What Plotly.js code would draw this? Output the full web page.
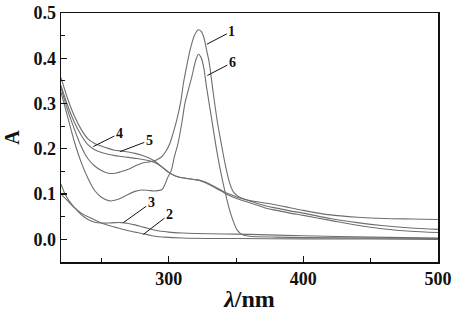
<!DOCTYPE html>
<html>
<head>
<meta charset="utf-8">
<script src="https://cdn.plot.ly/plotly-3.0.1.min.js"></script>
<style>html,body{margin:0;padding:0;background:#fff;}#chart{width:453px;height:312px;}</style>
</head>
<body>
<div id="chart"></div>
<script>
// Wavelengths (nm) and absorbance for each curve
const wl1 = [220,225,230,235,240,245,250,255,260,265,270,275,280,285,290,295,298,301,303,306,309,311,314,316,319,322,324,326,328,330,333,336,339,342,345,348,352,356,360,370,380,390,400,420,440,460,480,500];
const abs1 = [0.335,0.285,0.243,0.205,0.178,0.162,0.152,0.146,0.146,0.150,0.155,0.162,0.168,0.171,0.174,0.183,0.195,0.213,0.232,0.264,0.305,0.346,0.392,0.420,0.450,0.463,0.460,0.447,0.420,0.392,0.325,0.262,0.212,0.165,0.127,0.105,0.094,0.089,0.086,0.081,0.076,0.070,0.064,0.054,0.049,0.046,0.045,0.044];

const wl2 = [220,225,230,235,240,245,250,255,260,265,270,275,280,285,290,297,310,330,350,400,450,500];
const abs2 = [0.100,0.085,0.070,0.058,0.050,0.043,0.036,0.031,0.027,0.023,0.019,0.016,0.013,0.010,0.007,0.005,0.003,0.002,0.002,0.001,0.001,0.000];

const wl3 = [220,223,226,230,235,240,245,250,255,260,265,270,275,280,285,290,300,310,320,340,360,400,450,500];
const abs3 = [0.122,0.100,0.085,0.070,0.055,0.044,0.038,0.036,0.036,0.037,0.037,0.035,0.032,0.028,0.024,0.020,0.016,0.014,0.013,0.012,0.011,0.008,0.005,0.003];

const wl4 = [220,225,230,235,240,245,250,255,260,265,270,275,280,285,290,295,300,305,310,315,320,325,330,335,340,345,350,360,373,380,390,400,420,440,460,480,500];
const abs4 = [0.340,0.295,0.258,0.230,0.209,0.198,0.192,0.188,0.185,0.183,0.181,0.179,0.177,0.174,0.169,0.160,0.148,0.140,0.136,0.134,0.132,0.128,0.121,0.113,0.105,0.097,0.091,0.081,0.068,0.064,0.058,0.053,0.042,0.031,0.023,0.018,0.015];

const wl5 = [220,225,230,235,240,245,250,255,260,265,270,275,280,285,290,295,300,305,310,315,320,325,330,335,340,345,350,360,373,380,390,400,420,440,460,480,500];
const abs5 = [0.357,0.310,0.272,0.243,0.222,0.212,0.206,0.201,0.197,0.195,0.193,0.190,0.186,0.180,0.172,0.160,0.148,0.140,0.136,0.134,0.132,0.129,0.123,0.115,0.107,0.100,0.094,0.085,0.073,0.069,0.063,0.058,0.046,0.037,0.030,0.025,0.022];

const wl6 = [220,225,230,235,240,245,250,256,262,269,275,280,285,290,295,297,299,302,304,307,310,312,315,317,320,322,324,326,328,332,336,341,346,351,355,360,380,400,450,500];
const abs6 = [0.325,0.270,0.215,0.170,0.135,0.108,0.093,0.085,0.088,0.098,0.106,0.109,0.108,0.107,0.110,0.120,0.135,0.153,0.180,0.213,0.262,0.300,0.335,0.357,0.395,0.409,0.402,0.380,0.338,0.264,0.190,0.116,0.057,0.020,0.010,0.007,0.005,0.004,0.003,0.002];

const curveLabels = ['1','2','3','4','5','6'];
const xTickVals = [300,400,500];
const yTickVals = [0.0,0.1,0.2,0.3,0.4,0.5];

const series = [[wl1,abs1],[wl2,abs2],[wl3,abs3],[wl4,abs4],[wl5,abs5],[wl6,abs6]];
const lineColor = '#6e6e6e';
const traces = series.map((s,i)=>({
  x: s[0], y: s[1], type:'scatter', mode:'lines', name: curveLabels[i],
  line:{color:lineColor, width:1.1, shape:'spline', smoothing:0.7},
  hoverinfo:'skip'
}));

// label pointer: tip on curve (data), text offset in pixels
const labelTips = [
  {t:'1', x:328.3, y:0.431, ax:25, ay:-13},
  {t:'6', x:328.7, y:0.362, ax:25, ay:-13},
  {t:'4', x:244,   y:0.205, ax:26, ay:-13},
  {t:'5', x:264,   y:0.194, ax:29, ay:-11},
  {t:'3', x:266.3, y:0.037, ax:28, ay:-20},
  {t:'2', x:281.2, y:0.011, ax:26, ay:-20}
];
const serif = '"Liberation Serif", "Times New Roman", serif';
const annotations = labelTips.map(a=>({
  x:a.x, y:a.y, xref:'x', yref:'y', text:'<b>'+a.t+'</b>',
  showarrow:true, arrowhead:0, arrowwidth:1, arrowcolor:'#111', ax:a.ax, ay:a.ay,
  standoff:0, font:{family:serif, size:14, color:'#111'}
}));

const layout = {
  width:453, height:312,
  margin:{l:61, r:15, t:13, b:50},
  paper_bgcolor:'#fff', plot_bgcolor:'#fff',
  showlegend:false,
  font:{family:serif, color:'#111'},
  xaxis:{
    range:[220,500], tickvals:xTickVals, ticktext:xTickVals.map(v=>'<b>'+v+'</b>'),
    ticks:'inside', ticklen:6, tickwidth:1.2, tickcolor:'#111',
    minor:{tickvals:[250,350,450], ticks:'inside', ticklen:4, tickwidth:1, tickcolor:'#111'},
    showline:true, linecolor:'#111', linewidth:1.5, mirror:true,
    showgrid:false, zeroline:false,
    tickfont:{family:serif, size:18, color:'#111'},
    title:{text:'<b><i>λ</i>/nm</b>', font:{family:serif, size:24, color:'#111'}, standoff:2}
  },
  yaxis:{
    range:[-0.05,0.5], tickvals:yTickVals, ticktext:yTickVals.map(v=>'<b>'+v.toFixed(1)+'</b>'),
    ticks:'inside', ticklen:6, tickwidth:1.2, tickcolor:'#111',
    minor:{tickvals:[-0.05,0.05,0.15,0.25,0.35,0.45], ticks:'inside', ticklen:4, tickwidth:1, tickcolor:'#111'},
    showline:true, linecolor:'#111', linewidth:1.5, mirror:true,
    showgrid:false, zeroline:false,
    tickfont:{family:serif, size:18, color:'#111'},
    title:{text:'<b>A</b>', font:{family:serif, size:20, color:'#111'}, standoff:8}
  },
  annotations: annotations
};

Plotly.newPlot('chart', traces, layout, {staticPlot:true, displayModeBar:false});
</script>
</body>
</html>
